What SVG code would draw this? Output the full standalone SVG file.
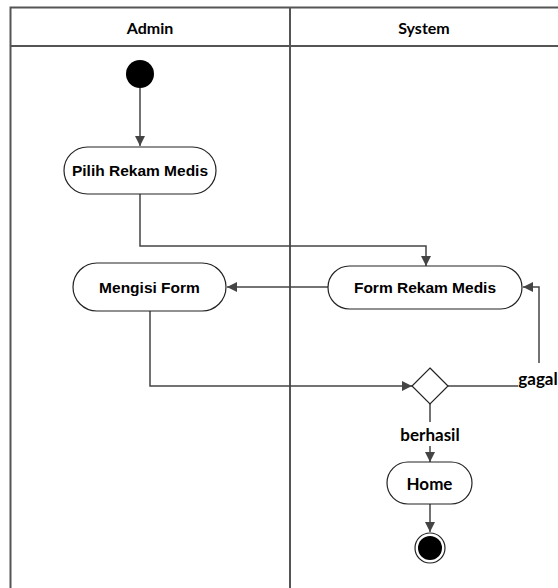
<svg xmlns="http://www.w3.org/2000/svg" width="558" height="588" viewBox="0 0 558 588">
<defs>
<style>
.lane{fill:none;stroke:#555;stroke-width:2}
.node{fill:#fff;stroke:#222;stroke-width:1.2}
.ta{font-family:"Liberation Sans",Arial,sans-serif;font-weight:bold;font-size:15.5px;fill:#000;text-anchor:middle;dominant-baseline:central}
.tc{font-family:Lato,"Open Sans",sans-serif;font-weight:bold;font-size:17px;fill:#000;text-anchor:middle;dominant-baseline:central}
.th{font-family:Lato,"Open Sans",sans-serif;font-weight:bold;font-size:16px;fill:#000;text-anchor:middle;dominant-baseline:central}
.edge{fill:none;stroke:#444;stroke-width:1.5}
</style>
<marker id="arr" viewBox="0 0 10 10" refX="10" refY="5" markerWidth="10" markerHeight="10" markerUnits="userSpaceOnUse" orient="auto">
<path d="M0,0 L10,5 L0,10 z" fill="#444"/>
</marker>
</defs>
<g id="lanes">
<path class="lane" d="M10.5,588 V7.5 H560 M10.5,46 H560 M290,7.5 V588"/>
<text class="th" x="150" y="27">Admin</text>
<text class="th" x="424" y="27">System</text>
</g>
<g id="connectors">
<path class="edge" d="M140,88 V146" marker-end="url(#arr)"/>
<path class="edge" d="M140,194 V246 H426 V266" marker-end="url(#arr)"/>
<path class="edge" d="M328,287 H227" marker-end="url(#arr)"/>
<path class="edge" d="M150,311 V386 H412" marker-end="url(#arr)"/>
<path class="edge" d="M448,386 H518"/>
<path class="edge" d="M539,363 V287 H523" marker-end="url(#arr)"/>
<path class="edge" d="M430,404 V422"/>
<path class="edge" d="M430,446 V462" marker-end="url(#arr)"/>
<path class="edge" d="M430,504 V532" marker-end="url(#arr)"/>
<text class="tc" x="538" y="378">gagal</text>
<text class="tc" x="430" y="434">berhasil</text>
</g>
<g id="start"><circle cx="140" cy="74" r="14" fill="#000"/></g>
<g id="pilih"><rect class="node" x="64" y="147" width="152" height="47" rx="23.5"/><text class="ta" x="140" y="170.5">Pilih Rekam Medis</text></g>
<g id="mengisi"><rect class="node" x="73" y="263" width="153" height="48" rx="24"/><text class="ta" x="149.5" y="287">Mengisi Form</text></g>
<g id="form"><rect class="node" x="328" y="266" width="194" height="43" rx="21.5"/><text class="ta" x="425" y="287.5">Form Rekam Medis</text></g>
<g id="decision"><path class="node" d="M430,368 L448,386 L430,404 L412,386 z"/></g>
<g id="home"><rect class="node" x="387" y="462" width="85" height="42" rx="21"/><text class="tc" x="429.5" y="483">Home</text></g>
<g id="end"><circle cx="430" cy="548" r="15" fill="#fff" stroke="#222" stroke-width="1.2"/><circle cx="430" cy="548" r="12" fill="#000"/></g>
</svg>
